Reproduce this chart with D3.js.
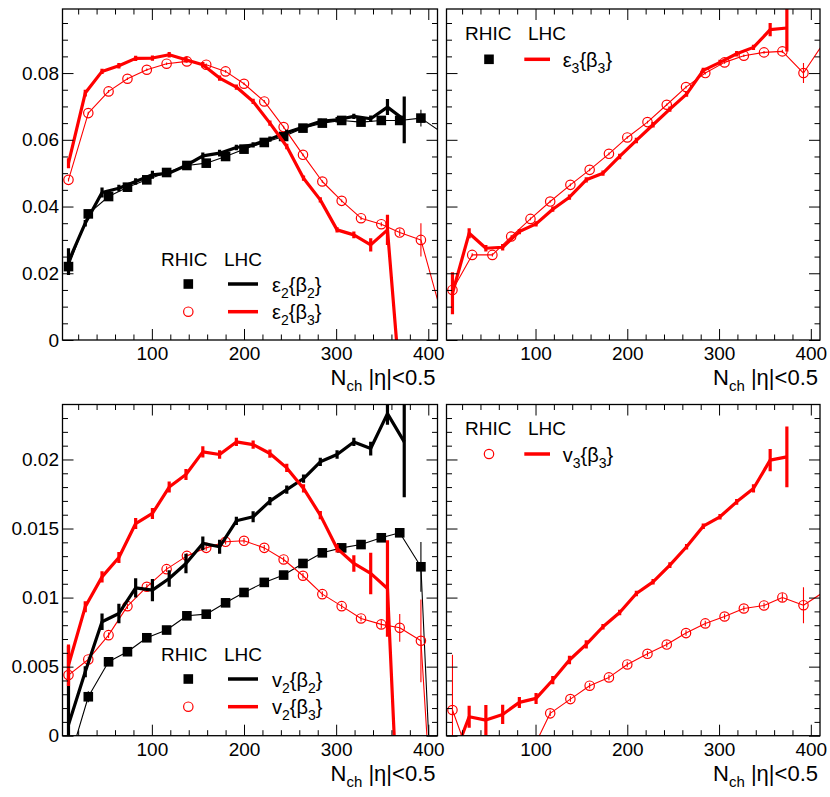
<!DOCTYPE html>
<html><head><meta charset="utf-8">
<script src="https://cdn.jsdelivr.net/npm/d3@7"></script>
<style>body{margin:0;background:#fff}svg{display:block}text{font-family:"Liberation Sans",Arial,Helvetica,sans-serif}</style>
</head><body><svg id="c" width="830" height="797"></svg>
<script>
// ---------------- data ----------------
const xRHIC = [9.5, 31, 53, 73.5, 94.5, 116, 138, 159, 180, 200, 222, 243, 264, 285, 306, 327, 349, 369, 392, 413];
const xLHC  = [9.5, 27.7, 45.9, 64.2, 82.4, 100.6, 118.8, 137.0, 155.3, 173.5, 191.7, 209.9, 228.1, 246.4, 264.6, 282.8, 301.0, 319.2, 337.5, 355.7, 373.9];

const xMajorTicks = [100, 200, 300, 400];
const yTopTicks = [0, 0.02, 0.04, 0.06, 0.08];
const yBotTicks = [0, 0.005, 0.01, 0.015, 0.02];

// eps2{beta2}
const eps2b2_RHIC = [0.022, 0.0378, 0.043, 0.0458, 0.048, 0.0502, 0.0523, 0.053, 0.055, 0.0572, 0.0592, 0.061, 0.0635, 0.065, 0.0658, 0.0653, 0.0658, 0.0658, 0.0665, 0.0625];
const eps2b2_RHIC_err = [0.0006, 0.0005, 0.0005, 0.0004, 0.0004, 0.0004, 0.0004, 0.0004, 0.0004, 0.0004, 0.0004, 0.0004, 0.0004, 0.0004, 0.0004, 0.0004, 0.0004, 0.0005, 0.0025, 0];
const eps2b2_LHC = [0.0235, 0.035, 0.0442, 0.0455, 0.0475, 0.0495, 0.050, 0.0523, 0.0552, 0.056, 0.0577, 0.0585, 0.0602, 0.0622, 0.0638, 0.0655, 0.066, 0.067, 0.0663, 0.0698, 0.066];
const eps2b2_LHC_err = [0.004, 0.001, 0.0015, 0.001, 0.001, 0.0012, 0.001, 0.001, 0.001, 0.001, 0.0008, 0.0008, 0.0008, 0.0008, 0.0008, 0.0008, 0.0008, 0.0008, 0.001, 0.0024, 0.007];
// eps2{beta3}
const eps2b3_RHIC = [0.048, 0.068, 0.0745, 0.0783, 0.081, 0.0828, 0.0835, 0.0825, 0.0805, 0.0768, 0.0715, 0.0638, 0.0555, 0.0475, 0.0417, 0.0365, 0.0347, 0.0322, 0.030, 0.0091];
const eps2b3_RHIC_err = [0.0005, 0.0004, 0.0004, 0.0004, 0.0004, 0.0004, 0.0004, 0.0004, 0.0004, 0.0004, 0.0004, 0.0004, 0.0004, 0.0004, 0.0004, 0.0005, 0.0006, 0.001, 0.005, 0];
const eps2b3_LHC = [0.053, 0.074, 0.0805, 0.0822, 0.0844, 0.0845, 0.0855, 0.084, 0.0825, 0.0785, 0.0758, 0.0715, 0.065, 0.058, 0.0485, 0.042, 0.033, 0.0315, 0.0285, 0.033, -0.0285];
const eps2b3_LHC_err = [0.0015, 0.001, 0.0008, 0.0008, 0.0008, 0.0008, 0.0008, 0.0008, 0.0008, 0.0008, 0.0008, 0.0008, 0.0008, 0.0008, 0.0008, 0.0008, 0.0008, 0.001, 0.002, 0.0045, 0];
// eps3{beta3}
const eps3b3_RHIC = [0.015, 0.0255, 0.0255, 0.031, 0.0363, 0.0415, 0.0465, 0.051, 0.0558, 0.0607, 0.0653, 0.0705, 0.0758, 0.080, 0.0832, 0.0852, 0.0862, 0.0865, 0.080, 0.0887];
const eps3b3_RHIC_err = [0.001, 0.0005, 0.0005, 0.0005, 0.0004, 0.0004, 0.0004, 0.0004, 0.0004, 0.0004, 0.0004, 0.0004, 0.0004, 0.0004, 0.0004, 0.0004, 0.0004, 0.0005, 0.003, 0];
const eps3b3_LHC = [0.014, 0.032, 0.0275, 0.0278, 0.0325, 0.0348, 0.0392, 0.0428, 0.048, 0.050, 0.055, 0.0598, 0.0645, 0.0692, 0.0737, 0.0808, 0.0832, 0.0858, 0.0877, 0.093, 0.0935];
const eps3b3_LHC_err = [0.0063, 0.0015, 0.001, 0.001, 0.0008, 0.0008, 0.0008, 0.0008, 0.0008, 0.0008, 0.0008, 0.0008, 0.0008, 0.0008, 0.0008, 0.0008, 0.0008, 0.0008, 0.0008, 0.002, 0.007];
// v2{beta2}
const v2b2_RHIC = [-0.002, 0.00282, 0.00535, 0.00608, 0.00709, 0.00765, 0.00868, 0.0088, 0.00962, 0.01037, 0.0111, 0.01163, 0.01247, 0.01324, 0.0136, 0.01384, 0.01433, 0.01469, 0.01223, -0.0186];
const v2b2_RHIC_err = [0, 0.0004, 0.0002, 0.0002, 0.0002, 0.0002, 0.0002, 0.0002, 0.0002, 0.0002, 0.0002, 0.0002, 0.0002, 0.0002, 0.0002, 0.0002, 0.0002, 0.0003, 0.0018, 0];
const v2b2_LHC = [0.0008, 0.00463, 0.00825, 0.00885, 0.0107, 0.01054, 0.01138, 0.01247, 0.01392, 0.01368, 0.01556, 0.01585, 0.01698, 0.01782, 0.01862, 0.01983, 0.02036, 0.02127, 0.02079, 0.02332, 0.02127];
const v2b2_LHC_err = [0.0057, 0.0004, 0.0006, 0.0007, 0.0007, 0.0008, 0.0006, 0.0007, 0.0005, 0.0005, 0.0003, 0.0004, 0.0003, 0.0003, 0.0003, 0.0003, 0.0003, 0.0003, 0.0005, 0.0008, 0.004];
// v2{beta3}
const v2b3_RHIC = [0.00439, 0.00552, 0.00728, 0.00938, 0.01078, 0.01206, 0.01302, 0.0136, 0.01404, 0.01411, 0.0136, 0.01276, 0.01158, 0.01025, 0.00938, 0.00849, 0.00806, 0.00781, 0.00687, -0.0153];
const v2b3_RHIC_err = [0.0004, 0.0002, 0.0002, 0.0002, 0.0002, 0.0002, 0.0002, 0.0002, 0.0002, 0.0002, 0.0002, 0.0002, 0.0002, 0.0002, 0.0002, 0.0002, 0.0003, 0.001, 0.003, 0];
const v2b3_LHC = [0.0051, 0.00933, 0.0115, 0.0129, 0.01536, 0.01609, 0.018, 0.01891, 0.02055, 0.02036, 0.02127, 0.02108, 0.02043, 0.01939, 0.0179, 0.01597, 0.01356, 0.01247, 0.01175, 0.01066, -0.016];
const v2b3_LHC_err = [0.0015, 0.0004, 0.0004, 0.0004, 0.0004, 0.0004, 0.0004, 0.0004, 0.0004, 0.0003, 0.0003, 0.0003, 0.0003, 0.0003, 0.0003, 0.0003, 0.0003, 0.0006, 0.0015, 0.0035, 0];
// v3{beta3}
const v3b3_RHIC = [0.00186, -0.0021, -0.0025, -0.002, -0.00133, 0.00162, 0.00265, 0.00362, 0.00422, 0.00516, 0.00593, 0.0066, 0.00743, 0.00813, 0.00863, 0.00921, 0.00943, 0.01001, 0.00945, 0.01035];
const v3b3_RHIC_err = [0.004, 0, 0, 0, 0, 0.0002, 0.0002, 0.0002, 0.0002, 0.0002, 0.0002, 0.0002, 0.0002, 0.0002, 0.0002, 0.0002, 0.0002, 0.0003, 0.0013, 0];
const v3b3_LHC = [-0.0018, 0.00137, 0.00113, 0.00154, 0.00241, 0.0027, 0.00403, 0.00548, 0.00661, 0.00789, 0.00892, 0.0103, 0.01114, 0.01235, 0.01368, 0.01517, 0.01585, 0.01693, 0.0179, 0.01995, 0.02019];
const v3b3_LHC_err = [0, 0.0008, 0.0011, 0.0007, 0.0004, 0.0004, 0.0003, 0.0003, 0.0003, 0.0002, 0.0002, 0.0002, 0.0002, 0.0002, 0.0002, 0.0002, 0.0002, 0.0002, 0.0003, 0.0008, 0.0022];

// ---------------- drawing ----------------
const svg = d3.select('#c');
const RED = '#ff0000', BLK = '#000000';
const xDomain = [3, 410];

function rhic(y, e, color, marker) { return {x: xRHIC, y, e, color, kind: 'rhic', marker}; }
function lhc(y, e, color) { return {x: xLHC, y, e, color, kind: 'lhc'}; }

const panels = [
  {id:'tl', x0:62.5, x1:437.5, y0:9, y1:340, yDom:[0,0.0992], yMaj:yTopTicks, yMinStep:0.005, yLabels:true,
   series:[rhic(eps2b2_RHIC, eps2b2_RHIC_err, BLK, 'sq'), rhic(eps2b3_RHIC, eps2b3_RHIC_err, RED, 'ci'),
           lhc(eps2b2_LHC, eps2b2_LHC_err, BLK), lhc(eps2b3_LHC, eps2b3_LHC_err, RED)],
   legend:{rx:161, by:265.5, lx:224, mx:188.3, l0:228, l1:258, tx:272, rows:[
     {y:284, marker:'sq', mc:BLK, lc:BLK, sym:'ε', n:'2', m:'2'},
     {y:311.7, marker:'ci', mc:RED, lc:RED, sym:'ε', n:'2', m:'3'}]}},
  {id:'tr', x0:446.5, x1:820, y0:9, y1:340, yDom:[0,0.0992], yMaj:yTopTicks, yMinStep:0.005, yLabels:false,
   series:[rhic(eps3b3_RHIC, eps3b3_RHIC_err, RED, 'ci'), lhc(eps3b3_LHC, eps3b3_LHC_err, RED)],
   legend:{rx:465, by:40, lx:528, mx:489, l0:524.3, l1:550, tx:562.7, rows:[
     {y:59.3, marker:'sq', mc:BLK, lc:RED, sym:'ε', n:'3', m:'3'}]}},
  {id:'bl', x0:62.5, x1:437.5, y0:404.5, y1:735.7, yDom:[0,0.02398], yMaj:yBotTicks, yMinStep:0.001, yLabels:true,
   series:[rhic(v2b2_RHIC, v2b2_RHIC_err, BLK, 'sq'), rhic(v2b3_RHIC, v2b3_RHIC_err, RED, 'ci'),
           lhc(v2b2_LHC, v2b2_LHC_err, BLK), lhc(v2b3_LHC, v2b3_LHC_err, RED)],
   legend:{rx:161, by:660.5, lx:224, mx:188.3, l0:228, l1:258, tx:272, rows:[
     {y:679, marker:'sq', mc:BLK, lc:BLK, sym:'v', n:'2', m:'2'},
     {y:706.7, marker:'ci', mc:RED, lc:RED, sym:'v', n:'2', m:'3'}]}},
  {id:'br', x0:446.5, x1:820, y0:404.5, y1:735.7, yDom:[0,0.02398], yMaj:yBotTicks, yMinStep:0.001, yLabels:false,
   series:[rhic(v3b3_RHIC, v3b3_RHIC_err, RED, 'ci'), lhc(v3b3_LHC, v3b3_LHC_err, RED)],
   legend:{rx:465, by:435, lx:528, mx:489, l0:524.3, l1:550, tx:562.7, rows:[
     {y:454, marker:'ci', mc:RED, lc:RED, sym:'v', n:'3', m:'3'}]}}
];

function styleAxis(g, fs) {
  g.select('.domain').remove();
  g.selectAll('.tick line').attr('stroke', '#000').attr('stroke-width', 1);
  g.attr('font-size', fs).attr('font-family', '"Liberation Sans",Arial,sans-serif').attr('fill', '#000');
  g.selectAll('.tick text').attr('fill', '#000');
}

function drawMarker(g, kind, cx, cy, color) {
  if (kind === 'sq') {
    g.append('rect').attr('x', cx - 4.8).attr('y', cy - 4.8).attr('width', 9.6).attr('height', 9.6).attr('fill', color);
  } else {
    g.append('circle').attr('cx', cx).attr('cy', cy).attr('r', 4.7).attr('fill', 'none').attr('stroke', color).attr('stroke-width', 1.2);
  }
}

panels.forEach(p => {
  const x = d3.scaleLinear().domain(xDomain).range([p.x0, p.x1]);
  const y = d3.scaleLinear().domain(p.yDom).range([p.y1, p.y0]);
  const g = svg.append('g');

  const cid = 'clip-' + p.id;
  svg.append('clipPath').attr('id', cid).append('rect')
    .attr('x', p.x0).attr('y', p.y0).attr('width', p.x1 - p.x0).attr('height', p.y1 - p.y0);
  const plot = g.append('g').attr('clip-path', `url(#${cid})`);

  const line = d3.line().x(d => x(d[0])).y(d => y(d[1]));
  const order = p.series.slice().sort((a, b) => (a.kind === 'lhc') - (b.kind === 'lhc'));
  order.forEach(s => {
    const pts = s.x.map((xv, i) => [xv, s.y[i], s.e[i]]);
    const thick = s.kind === 'lhc';
    const lw = thick ? 3.2 : 1.1;
    plot.append('path').datum(pts).attr('d', line).attr('fill', 'none')
      .attr('stroke', s.color).attr('stroke-width', lw).attr('stroke-linejoin', 'round');
    plot.append('g').selectAll('line').data(pts.filter(d => d[2] > 0)).join('line')
      .attr('x1', d => x(d[0])).attr('x2', d => x(d[0]))
      .attr('y1', d => y(d[1] - d[2])).attr('y2', d => y(d[1] + d[2]))
      .attr('stroke', s.color).attr('stroke-width', thick ? 3.2 : 1.1);
    if (!thick) {
      const mg = plot.append('g');
      pts.forEach(d => { if (d[0] <= xDomain[1] && d[1] >= p.yDom[0]) drawMarker(mg, s.marker, x(d[0]), y(d[1]), s.color); });
    }
  });

  const xMinor = d3.range(20, xDomain[1], 20).filter(v => v % 100 !== 0);
  const yMinor = d3.range(p.yDom[0], p.yDom[1], p.yMinStep).filter(v => !p.yMaj.some(m => Math.abs(m - v) < 1e-9));
  const MAJ = 11, MIN = 5.5;

  const gb = g.append('g').attr('transform', `translate(0,${p.y1})`)
    .call(d3.axisBottom(x).tickValues(xMajorTicks).tickSize(-MAJ).tickPadding(7).tickFormat(d3.format('d')));
  styleAxis(gb, 19);
  gb.selectAll('.tick text').attr('y', 6).attr('dy', '0.75em');
  styleAxis(g.append('g').attr('transform', `translate(0,${p.y1})`).call(d3.axisBottom(x).tickValues(xMinor).tickSize(-MIN).tickFormat('')), 10);
  styleAxis(g.append('g').attr('transform', `translate(0,${p.y0})`).call(d3.axisTop(x).tickValues(xMajorTicks).tickSize(-MAJ).tickFormat('')), 10);
  styleAxis(g.append('g').attr('transform', `translate(0,${p.y0})`).call(d3.axisTop(x).tickValues(xMinor).tickSize(-MIN).tickFormat('')), 10);

  const gl = g.append('g').attr('transform', `translate(${p.x0},0)`)
    .call(d3.axisLeft(y).tickValues(p.yMaj).tickSize(-MAJ).tickPadding(3.5).tickFormat(p.yLabels ? (d => String(d)) : ''));
  styleAxis(gl, 19);
  styleAxis(g.append('g').attr('transform', `translate(${p.x0},0)`).call(d3.axisLeft(y).tickValues(yMinor).tickSize(-MIN).tickFormat('')), 10);
  styleAxis(g.append('g').attr('transform', `translate(${p.x1},0)`).call(d3.axisRight(y).tickValues(p.yMaj).tickSize(-MAJ).tickFormat('')), 10);
  styleAxis(g.append('g').attr('transform', `translate(${p.x1},0)`).call(d3.axisRight(y).tickValues(yMinor).tickSize(-MIN).tickFormat('')), 10);

  g.append('rect').attr('x', p.x0).attr('y', p.y0).attr('width', p.x1 - p.x0).attr('height', p.y1 - p.y0)
    .attr('fill', 'none').attr('stroke', '#000').attr('stroke-width', 1.3);

  const t = g.append('text').attr('x', p.x1 - 2).attr('y', p.y1 + 45).attr('text-anchor', 'end')
    .attr('font-size', 22).attr('fill', '#000');
  t.append('tspan').text('N');
  t.append('tspan').attr('font-size', 15).attr('dy', 6).text('ch');
  t.append('tspan').attr('dy', -6).text(' |η|<0.5');

  const L = p.legend;
  g.append('text').attr('x', L.rx).attr('y', L.by).attr('font-size', 19).text('RHIC');
  g.append('text').attr('x', L.lx).attr('y', L.by).attr('font-size', 19).text('LHC');
  L.rows.forEach(r => {
    drawMarker(g, r.marker, L.mx, r.y, r.mc);
    g.append('line').attr('x1', L.l0).attr('x2', L.l1).attr('y1', r.y).attr('y2', r.y)
      .attr('stroke', r.lc).attr('stroke-width', 3.5);
    const tt = g.append('text').attr('x', L.tx).attr('y', r.y + 7.5).attr('font-size', 20).attr('fill', '#000');
    tt.append('tspan').text(r.sym);
    tt.append('tspan').attr('font-size', 14).attr('dy', 6).text(r.n);
    tt.append('tspan').attr('dy', -6).text('{β');
    tt.append('tspan').attr('font-size', 14).attr('dy', 6).text(r.m);
    tt.append('tspan').attr('dy', -6).text('}');
  });
});
</script>
</body></html>
